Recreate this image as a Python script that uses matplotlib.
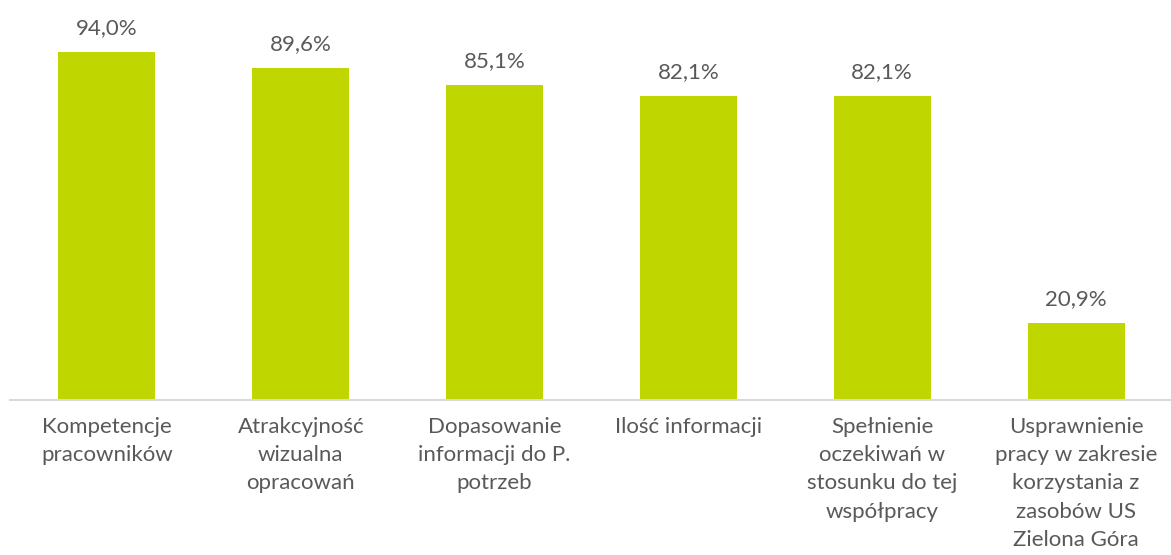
import matplotlib
matplotlib.use("Agg")
import matplotlib.pyplot as plt

categories = [
    "Kompetencje\npracowników",
    "Atrakcyjność\nwizualna\nopracowań",
    "Dopasowanie\ninformacji do P.\npotrzeb",
    "Ilość informacji",
    "Spełnienie\noczekiwań w\nstosunku do tej\nwspółpracy",
    "Usprawnienie\npracy w zakresie\nkorzystania z\nzasobów US\nZielona Góra",
]
values = [94.0, 89.6, 85.1, 82.1, 82.1, 20.9]
value_labels = ["94,0%", "89,6%", "85,1%", "82,1%", "82,1%", "20,9%"]

plt.rcParams['font.family'] = ['Lato', 'DejaVu Sans']
text_color = "#595959"

fig = plt.figure(figsize=(11.71, 5.55), dpi=100)
ax = fig.add_axes([10/1171, (555-400)/555, 1163/1171, 370/555])

x = list(range(len(categories)))
bars = ax.bar(x, values, width=0.5, color="#BFD600")
ax.set_xlim(-0.5, len(categories) - 0.5)
ax.set_ylim(0, 100)

for xi, v, lab in zip(x, values, value_labels):
    ax.annotate(lab, (xi, v), xytext=(0, 10), textcoords="offset points",
                ha="center", va="bottom", fontsize=16, color=text_color,
                annotation_clip=False)

ax.set_xticks(x)
ax.set_xticklabels(categories, fontsize=16, color=text_color, linespacing=1.52)
ax.tick_params(axis="x", length=0, pad=12)
ax.set_yticks([])
for s in ["top", "right", "left"]:
    ax.spines[s].set_visible(False)
ax.spines["bottom"].set_color("#D9D9D9")
ax.spines["bottom"].set_linewidth(1.5)

fig.savefig("out.png", dpi=100)
